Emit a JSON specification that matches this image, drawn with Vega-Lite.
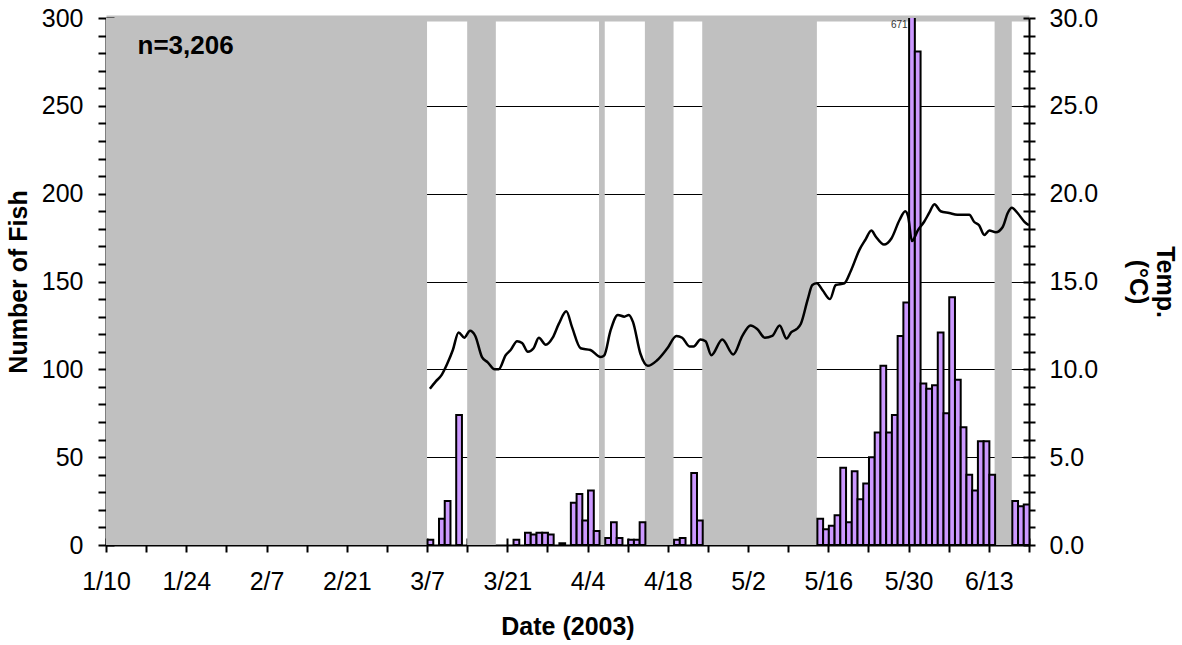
{
  "$schema": "https://vega.github.io/schema/vega-lite/v6.json",
  "width": 923,
  "height": 527,
  "autosize": {"type": "none"},
  "padding": {"left": 106, "top": 18, "right": 153, "bottom": 100},
  "background": "white",
  "config": {
    "font": "Liberation Sans",
    "view": {"stroke": null},
    "axis": {
      "grid": false,
      "labelFont": "Liberation Sans",
      "labelFontSize": 25,
      "labelColor": "black",
      "titleFont": "Liberation Sans",
      "titleFontSize": 25,
      "titleFontWeight": "bold",
      "titleColor": "black",
      "domainColor": "black",
      "domainWidth": 2,
      "tickColor": "black",
      "tickWidth": 2,
      "labelOverlap": false,
      "labelFlush": false
    }
  },
  "datasets": {
    "fish": [
      {"date": "2003-03-07", "count": 3},
      {"date": "2003-03-09", "count": 15},
      {"date": "2003-03-10", "count": 25},
      {"date": "2003-03-12", "count": 74},
      {"date": "2003-03-22", "count": 3},
      {"date": "2003-03-24", "count": 7},
      {"date": "2003-03-25", "count": 6},
      {"date": "2003-03-26", "count": 7},
      {"date": "2003-03-27", "count": 7},
      {"date": "2003-03-28", "count": 6},
      {"date": "2003-03-30", "count": 1},
      {"date": "2003-04-01", "count": 24},
      {"date": "2003-04-02", "count": 29},
      {"date": "2003-04-03", "count": 14},
      {"date": "2003-04-04", "count": 31},
      {"date": "2003-04-05", "count": 8},
      {"date": "2003-04-07", "count": 4},
      {"date": "2003-04-08", "count": 13},
      {"date": "2003-04-09", "count": 4},
      {"date": "2003-04-11", "count": 3},
      {"date": "2003-04-12", "count": 3},
      {"date": "2003-04-13", "count": 13},
      {"date": "2003-04-19", "count": 3},
      {"date": "2003-04-20", "count": 4},
      {"date": "2003-04-22", "count": 41},
      {"date": "2003-04-23", "count": 14},
      {"date": "2003-05-14", "count": 15},
      {"date": "2003-05-15", "count": 9},
      {"date": "2003-05-16", "count": 11},
      {"date": "2003-05-17", "count": 17},
      {"date": "2003-05-18", "count": 44},
      {"date": "2003-05-19", "count": 13},
      {"date": "2003-05-20", "count": 42},
      {"date": "2003-05-21", "count": 26},
      {"date": "2003-05-22", "count": 35},
      {"date": "2003-05-23", "count": 50},
      {"date": "2003-05-24", "count": 64},
      {"date": "2003-05-25", "count": 102},
      {"date": "2003-05-26", "count": 64},
      {"date": "2003-05-27", "count": 74},
      {"date": "2003-05-28", "count": 119},
      {"date": "2003-05-29", "count": 138},
      {"date": "2003-05-30", "count": 671},
      {"date": "2003-05-31", "count": 281},
      {"date": "2003-06-01", "count": 92},
      {"date": "2003-06-02", "count": 89},
      {"date": "2003-06-03", "count": 91},
      {"date": "2003-06-04", "count": 121},
      {"date": "2003-06-05", "count": 75},
      {"date": "2003-06-06", "count": 141},
      {"date": "2003-06-07", "count": 94},
      {"date": "2003-06-08", "count": 67},
      {"date": "2003-06-09", "count": 40},
      {"date": "2003-06-10", "count": 31},
      {"date": "2003-06-11", "count": 59},
      {"date": "2003-06-12", "count": 59},
      {"date": "2003-06-13", "count": 40},
      {"date": "2003-06-17", "count": 25},
      {"date": "2003-06-18", "count": 22},
      {"date": "2003-06-19", "count": 23}
    ]
  },
  "resolve": {"scale": {"y": "independent"}, "axis": {"x": "independent", "y": "independent"}},
  "layer": [
    {
      "data": {"values": [
        {"start": "2003-01-10", "end": "2003-03-07"},
        {"start": "2003-03-14", "end": "2003-03-19"},
        {"start": "2003-04-06", "end": "2003-04-07"},
        {"start": "2003-04-14", "end": "2003-04-19"},
        {"start": "2003-04-24", "end": "2003-05-14"},
        {"start": "2003-06-14", "end": "2003-06-17"}
      ]},
      "mark": {"type": "rect", "color": "#C0C0C0"},
      "encoding": {
        "x": {"field": "start", "type": "temporal", "scale": {"type": "utc", "domain": [1042156800000, 1056067200000], "nice": false}, "axis": null},
        "x2": {"field": "end"},
        "y": {"datum": 300, "type": "quantitative", "scale": {"domain": [0, 300], "nice": false},
          "axis": {"orient": "left", "grid": true,
            "gridColor": {"condition": {"test": "datum.value === 300", "value": "#C0C0C0"}, "value": "black"},
            "gridWidth": {"condition": {"test": "datum.value === 300", "value": 6}, "value": 1},
            "values": [50, 100, 150, 200, 250, 300], "domain": false, "ticks": false, "labels": false, "title": null}},
        "y2": {"datum": 0}
      }
    },
    {
      "data": {"name": "fish"},
      "mark": {"type": "bar", "fill": "#CC99FF", "stroke": "black", "strokeWidth": 2, "binSpacing": 0, "clip": true},
      "encoding": {
        "x": {"field": "date", "type": "temporal", "timeUnit": "utcyearmonthdate", "axis": null},
        "y": {"field": "count", "type": "quantitative", "scale": {"domain": [0, 300], "nice": false},
          "axis": {"orient": "left", "values": [0,10,20,30,40,50,60,70,80,90,100,110,120,130,140,150,160,170,180,190,200,210,220,230,240,250,260,270,280,290,300],
            "labelExpr": "datum.value % 50 === 0 ? datum.label : ''", "tickSize": 8, "labelPadding": 15,
            "title": "Number of Fish", "titlePadding": 10}}
      }
    },
    {
      "data": {"values": [
        {"time": "2003-03-07T12:00Z", "temp": 8.9},
        {"time": "2003-03-08T12:00Z", "temp": 9.3},
        {"time": "2003-03-09T14:00Z", "temp": 9.7},
        {"time": "2003-03-10T12:00Z", "temp": 10.3},
        {"time": "2003-03-11T12:00Z", "temp": 11.1},
        {"time": "2003-03-12T12:00Z", "temp": 12.1},
        {"time": "2003-03-13T12:00Z", "temp": 11.8},
        {"time": "2003-03-14T12:00Z", "temp": 12.2},
        {"time": "2003-03-15T10:00Z", "temp": 11.9},
        {"time": "2003-03-16T14:00Z", "temp": 10.7},
        {"time": "2003-03-17T14:00Z", "temp": 10.4},
        {"time": "2003-03-18T19:00Z", "temp": 10.0},
        {"time": "2003-03-19T12:00Z", "temp": 10.0},
        {"time": "2003-03-20T17:00Z", "temp": 10.8},
        {"time": "2003-03-21T14:00Z", "temp": 11.1},
        {"time": "2003-03-22T17:00Z", "temp": 11.6},
        {"time": "2003-03-23T14:00Z", "temp": 11.5},
        {"time": "2003-03-24T14:00Z", "temp": 11.0},
        {"time": "2003-03-25T14:00Z", "temp": 11.2},
        {"time": "2003-03-26T12:00Z", "temp": 11.8},
        {"time": "2003-03-27T17:00Z", "temp": 11.4},
        {"time": "2003-03-28T22:00Z", "temp": 11.8},
        {"time": "2003-03-30T00:00Z", "temp": 12.6},
        {"time": "2003-03-31T07:00Z", "temp": 13.3},
        {"time": "2003-04-01T07:00Z", "temp": 12.4},
        {"time": "2003-04-02T19:00Z", "temp": 11.2},
        {"time": "2003-04-04T12:00Z", "temp": 11.1},
        {"time": "2003-04-06T07:00Z", "temp": 10.7},
        {"time": "2003-04-06T22:00Z", "temp": 10.8},
        {"time": "2003-04-08T00:00Z", "temp": 12.2},
        {"time": "2003-04-09T07:00Z", "temp": 13.1},
        {"time": "2003-04-10T10:00Z", "temp": 13.0},
        {"time": "2003-04-11T05:00Z", "temp": 13.1},
        {"time": "2003-04-11T22:00Z", "temp": 12.7},
        {"time": "2003-04-13T05:00Z", "temp": 10.9},
        {"time": "2003-04-14T12:00Z", "temp": 10.2},
        {"time": "2003-04-16T02:00Z", "temp": 10.5},
        {"time": "2003-04-17T22:00Z", "temp": 11.2},
        {"time": "2003-04-19T12:00Z", "temp": 11.9},
        {"time": "2003-04-20T12:00Z", "temp": 11.8},
        {"time": "2003-04-21T19:00Z", "temp": 11.3},
        {"time": "2003-04-22T12:00Z", "temp": 11.3},
        {"time": "2003-04-23T17:00Z", "temp": 11.7},
        {"time": "2003-04-24T14:00Z", "temp": 11.6},
        {"time": "2003-04-25T14:00Z", "temp": 10.8},
        {"time": "2003-04-27T12:00Z", "temp": 11.7},
        {"time": "2003-04-29T10:00Z", "temp": 10.85},
        {"time": "2003-05-01T00:00Z", "temp": 11.9},
        {"time": "2003-05-02T10:00Z", "temp": 12.5},
        {"time": "2003-05-03T14:00Z", "temp": 12.3},
        {"time": "2003-05-04T22:00Z", "temp": 11.8},
        {"time": "2003-05-06T05:00Z", "temp": 11.9},
        {"time": "2003-05-07T12:00Z", "temp": 12.5},
        {"time": "2003-05-08T17:00Z", "temp": 11.75},
        {"time": "2003-05-09T12:00Z", "temp": 12.1},
        {"time": "2003-05-10T12:00Z", "temp": 12.3},
        {"time": "2003-05-11T05:00Z", "temp": 12.6},
        {"time": "2003-05-12T10:00Z", "temp": 14.0},
        {"time": "2003-05-13T05:00Z", "temp": 14.8},
        {"time": "2003-05-14T00:00Z", "temp": 14.9},
        {"time": "2003-05-15T00:00Z", "temp": 14.5},
        {"time": "2003-05-16T07:00Z", "temp": 14.0},
        {"time": "2003-05-17T07:00Z", "temp": 14.8},
        {"time": "2003-05-18T19:00Z", "temp": 14.9},
        {"time": "2003-05-19T22:00Z", "temp": 15.6},
        {"time": "2003-05-21T10:00Z", "temp": 16.8},
        {"time": "2003-05-22T12:00Z", "temp": 17.4},
        {"time": "2003-05-23T12:00Z", "temp": 17.9},
        {"time": "2003-05-24T07:00Z", "temp": 17.55},
        {"time": "2003-05-25T17:00Z", "temp": 17.1},
        {"time": "2003-05-27T00:00Z", "temp": 17.45},
        {"time": "2003-05-28T10:00Z", "temp": 18.5},
        {"time": "2003-05-29T10:00Z", "temp": 19.0},
        {"time": "2003-05-29T22:00Z", "temp": 18.7},
        {"time": "2003-05-30T14:00Z", "temp": 17.3},
        {"time": "2003-05-31T14:00Z", "temp": 17.9},
        {"time": "2003-06-01T17:00Z", "temp": 18.4},
        {"time": "2003-06-02T14:00Z", "temp": 18.9},
        {"time": "2003-06-03T12:00Z", "temp": 19.4},
        {"time": "2003-06-04T14:00Z", "temp": 19.0},
        {"time": "2003-06-06T02:00Z", "temp": 18.9},
        {"time": "2003-06-07T12:00Z", "temp": 18.8},
        {"time": "2003-06-09T00:00Z", "temp": 18.8},
        {"time": "2003-06-09T14:00Z", "temp": 18.8},
        {"time": "2003-06-10T10:00Z", "temp": 18.4},
        {"time": "2003-06-11T07:00Z", "temp": 18.2},
        {"time": "2003-06-12T05:00Z", "temp": 17.65},
        {"time": "2003-06-13T02:00Z", "temp": 17.9},
        {"time": "2003-06-14T05:00Z", "temp": 17.8},
        {"time": "2003-06-15T10:00Z", "temp": 18.1},
        {"time": "2003-06-16T07:00Z", "temp": 18.9},
        {"time": "2003-06-17T00:00Z", "temp": 19.2},
        {"time": "2003-06-18T00:00Z", "temp": 18.9},
        {"time": "2003-06-19T05:00Z", "temp": 18.4},
        {"time": "2003-06-20T00:00Z", "temp": 18.2}
      ]},
      "mark": {"type": "line", "color": "black", "strokeWidth": 2.5, "interpolate": "monotone"},
      "encoding": {
        "x": {"field": "time", "type": "temporal",
          "axis": {"orient": "bottom",
            "values": [1042156800000,1042761600000,1043366400000,1043971200000,1044576000000,1045180800000,1045785600000,1046390400000,1046995200000,1047600000000,1048204800000,1048809600000,1049414400000,1050019200000,1050624000000,1051228800000,1051833600000,1052438400000,1053043200000,1053648000000,1054252800000,1054857600000,1055462400000,1056067200000],
            "labelExpr": "round((datum.value - 1042156800000) / 86400000) % 14 === 0 ? utcFormat(datum.value, '%-m/%-d') : ''",
            "tickSize": 7, "labelPadding": 17, "title": "Date (2003)", "titlePadding": 20}},
        "y": {"field": "temp", "type": "quantitative", "scale": {"domain": [0, 30], "nice": false},
          "axis": {"orient": "right", "values": [0,1,2,3,4,5,6,7,8,9,10,11,12,13,14,15,16,17,18,19,20,21,22,23,24,25,26,27,28,29,30],
            "format": ".1f", "labelExpr": "datum.value % 5 === 0 ? datum.label : ''", "tickSize": 6, "labelPadding": 14,
            "title": ["Temp.", "(°C)"], "titlePadding": 27}}
      }
    },
    {
      "data": {"values": [{"label": "n=3,206"}]},
      "mark": {"type": "text", "align": "left", "baseline": "middle", "fontSize": 26, "fontWeight": "bold", "color": "black"},
      "encoding": {
        "x": {"datum": {"year": 2003, "month": 1, "date": 15, "hours": 12, "utc": true}, "type": "temporal",
          "axis": {"orient": "bottom", "offset": -7, "tickSize": 7, "labels": false, "domain": false, "title": null,
            "values": [1042156800000,1042761600000,1043366400000,1043971200000,1044576000000,1045180800000,1045785600000,1046390400000,1046995200000,1047600000000,1048204800000,1048809600000,1049414400000,1050019200000,1050624000000,1051228800000,1051833600000,1052438400000,1053043200000,1053648000000,1054252800000,1054857600000,1055462400000,1056067200000]}},
        "y": {"datum": 284, "type": "quantitative", "scale": {"domain": [0, 300], "nice": false},
          "axis": {"orient": "left", "offset": -8, "tickSize": 8, "labels": false, "domain": false, "title": null,
            "values": [0,10,20,30,40,50,60,70,80,90,100,110,120,130,140,150,160,170,180,190,200,210,220,230,240,250,260,270,280,290,300]}},
        "text": {"field": "label"}
      }
    },
    {
      "data": {"name": "fish"},
      "transform": [{"filter": "datum.count > 300"}],
      "mark": {"type": "text", "align": "right", "baseline": "middle", "fontSize": 10, "color": "#333333", "dx": -1},
      "encoding": {
        "x": {"field": "date", "type": "temporal", "axis": null},
        "y": {"datum": 296, "type": "quantitative", "scale": {"domain": [0, 300], "nice": false},
          "axis": {"orient": "right", "offset": -6, "tickSize": 6, "labels": false, "domain": false, "title": null,
            "values": [0,10,20,30,40,50,60,70,80,90,100,110,120,130,140,150,160,170,180,190,200,210,220,230,240,250,260,270,280,290,300]}},
        "text": {"field": "count"}
      }
    }
  ]
}
